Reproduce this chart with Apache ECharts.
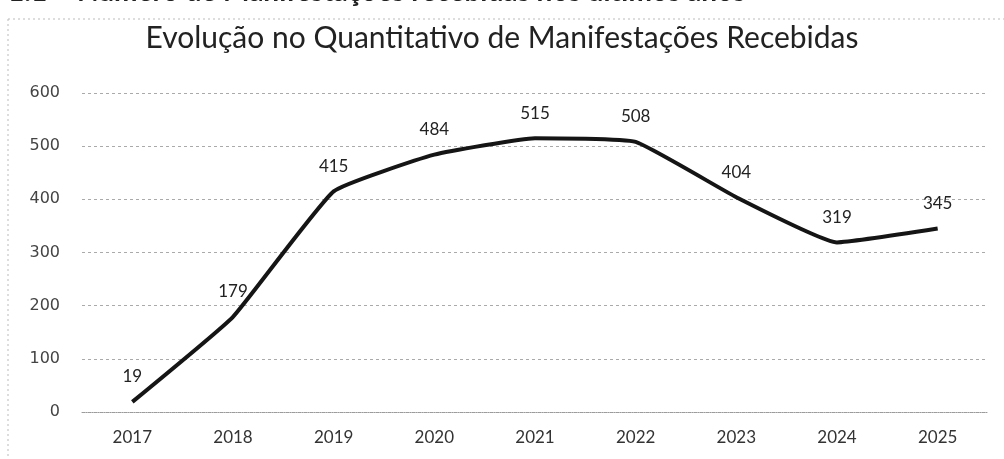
<!DOCTYPE html>
<html>
<head>
<meta charset="utf-8">
<script src="https://cdn.jsdelivr.net/npm/echarts@6/dist/echarts.min.js"></script>
<style>
	html, body { margin: 0; padding: 0; background: #fff; }
	#main { width: 1004px; height: 459px; }
</style>
</head>
<body>
<div id="main"></div>
<script>
// dados
const years = ['2017', '2018', '2019', '2020', '2021', '2022', '2023', '2024', '2025']
const manifestacoes = [19, 179, 415, 484, 515, 508, 404, 319, 345]
const yTicks = [0, 100, 200, 300, 400, 500, 600]

const titulo = 'Evolução no Quantitativo de Manifestações Recebidas'
const cabecalho = '1.1 – Número de Manifestações recebidas nos últimos anos'

let myChart = echarts.init(document.getElementById('main'))
let option = {
	backgroundColor: '#fff',
	animation: false,
	title: {
		text: titulo,
		left: 'center',
		top: 18,
		textStyle: {
			fontFamily: 'Lato',
			fontWeight: 'normal',
			fontSize: 30,
			color: '#222'
		}
	},
	graphic: [
		{
			type: 'text',
			left: 8,
			top: -22,
			style: {
				text: cabecalho,
				font: 'bold 28px Lato',
				fill: '#222'
			}
		},
		{
			// borda pontilhada do grafico
			type: 'line',
			shape: { x1: 8, y1: 19, x2: 1004, y2: 19 },
			style: { stroke: '#bbb', lineWidth: 1, lineDash: [2, 3] }
		},
		{
			type: 'line',
			shape: { x1: 8, y1: 19, x2: 8, y2: 459 },
			style: { stroke: '#bbb', lineWidth: 1, lineDash: [2, 3] }
		}
	],
	grid: {
		left: 82,
		right: 16,
		top: 93,
		bottom: 47
	},
	xAxis: {
		type: 'category',
		data: years,
		boundaryGap: true,
		axisTick: { show: false },
		axisLine: {
			lineStyle: { color: '#999', width: 1, type: 'dotted' }
		},
		axisLabel: {
			fontFamily: 'Lato',
			fontSize: 17,
			color: '#333',
			margin: 17
		}
	},
	yAxis: {
		type: 'value',
		min: yTicks[0],
		max: yTicks[yTicks.length - 1],
		interval: 100,
		axisLine: { show: false },
		axisTick: { show: false },
		axisLabel: {
			fontFamily: 'DejaVu Sans',
			fontSize: 16,
			color: '#444',
			margin: 22
		},
		splitLine: {
			show: true,
			lineStyle: { color: '#aaa', type: [3, 3], width: 1 }
		}
	},
	series: [
		{
			type: 'line',
			data: manifestacoes,
			smooth: 0.12,
			showSymbol: true,
			symbol: 'circle',
			symbolSize: 1,
			itemStyle: { color: 'rgba(0,0,0,0)' },
			lineStyle: { color: '#151515', width: 4 },
			label: {
				show: true,
				position: 'top',
				distance: 16,
				fontFamily: 'Lato',
				fontSize: 17,
				color: '#222'
			}
		}
	]
}
myChart.setOption(option)
</script>
</body>
</html>
